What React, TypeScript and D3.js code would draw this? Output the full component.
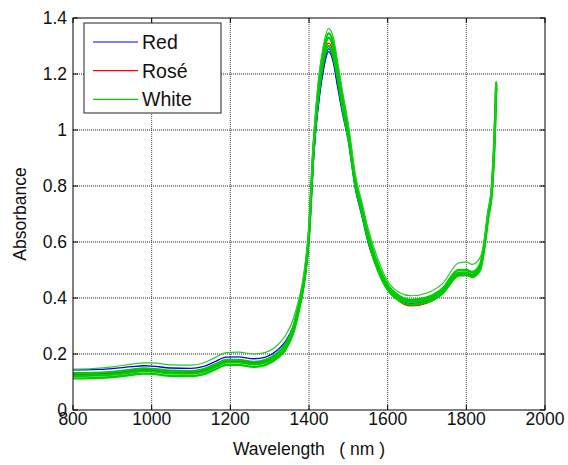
import React from 'react';
import * as d3 from 'd3';

// wavelengths (nm) shared by every spectrum
const wavelengths = [800, 850, 900, 950, 980, 1000, 1050, 1100, 1130, 1160, 1190, 1220, 1260, 1290, 1320, 1340, 1360, 1375, 1385, 1395, 1400, 1405, 1410, 1415, 1425, 1435, 1450, 1462, 1472, 1485, 1500, 1518, 1535, 1550, 1575, 1600, 1630, 1660, 1700, 1740, 1780, 1800, 1815, 1835, 1845, 1855, 1865, 1872, 1876];

// Red wines (drawn blue)
const red1 = [0.143, 0.144, 0.148, 0.155, 0.158, 0.157, 0.150, 0.149, 0.155, 0.172, 0.189, 0.190, 0.183, 0.189, 0.214, 0.245, 0.30, 0.38, 0.44, 0.54, 0.62, 0.74, 0.87, 0.97, 1.11, 1.21, 1.29, 1.25, 1.17, 1.07, 0.97, 0.80, 0.70, 0.61, 0.51, 0.44, 0.402, 0.39, 0.40, 0.432, 0.50, 0.50, 0.492, 0.518, 0.58, 0.69, 0.79, 0.98, 1.16];
const red2 = [0.128, 0.129, 0.133, 0.141, 0.145, 0.144, 0.137, 0.136, 0.142, 0.159, 0.176, 0.176, 0.169, 0.176, 0.201, 0.231, 0.29, 0.37, 0.43, 0.53, 0.61, 0.73, 0.86, 0.96, 1.10, 1.20, 1.28, 1.24, 1.16, 1.06, 0.96, 0.79, 0.69, 0.60, 0.50, 0.43, 0.392, 0.38, 0.39, 0.422, 0.488, 0.489, 0.482, 0.508, 0.575, 0.685, 0.785, 0.975, 1.16];

// Rosé wines (drawn red)
const rose1 = [0.125, 0.126, 0.130, 0.138, 0.142, 0.141, 0.134, 0.133, 0.139, 0.156, 0.173, 0.173, 0.166, 0.173, 0.198, 0.228, 0.288, 0.372, 0.442, 0.552, 0.632, 0.762, 0.90, 1.00, 1.15, 1.25, 1.31, 1.275, 1.20, 1.09, 0.98, 0.805, 0.705, 0.615, 0.505, 0.435, 0.388, 0.372, 0.382, 0.42, 0.485, 0.486, 0.479, 0.505, 0.575, 0.685, 0.785, 0.975, 1.16];

// White wines (drawn green)
const white1 = [0.113, 0.114, 0.118, 0.126, 0.130, 0.129, 0.122, 0.121, 0.127, 0.144, 0.161, 0.161, 0.154, 0.161, 0.186, 0.215, 0.275, 0.36, 0.43, 0.54, 0.62, 0.75, 0.89, 0.99, 1.13, 1.23, 1.30, 1.26, 1.19, 1.08, 0.97, 0.80, 0.70, 0.61, 0.50, 0.43, 0.39, 0.376, 0.385, 0.417, 0.48, 0.482, 0.475, 0.50, 0.57, 0.68, 0.78, 0.97, 1.15];
const white2 = [0.122, 0.123, 0.127, 0.135, 0.139, 0.138, 0.131, 0.130, 0.136, 0.153, 0.170, 0.170, 0.163, 0.170, 0.195, 0.225, 0.285, 0.37, 0.44, 0.55, 0.63, 0.76, 0.90, 1.00, 1.15, 1.25, 1.33, 1.29, 1.21, 1.10, 0.99, 0.81, 0.71, 0.62, 0.51, 0.44, 0.40, 0.386, 0.394, 0.426, 0.49, 0.491, 0.484, 0.51, 0.58, 0.69, 0.79, 0.98, 1.165];
const white3 = [0.131, 0.132, 0.136, 0.144, 0.148, 0.147, 0.140, 0.139, 0.145, 0.162, 0.179, 0.179, 0.172, 0.179, 0.204, 0.235, 0.295, 0.38, 0.45, 0.56, 0.64, 0.77, 0.91, 1.01, 1.17, 1.27, 1.345, 1.31, 1.23, 1.12, 1.00, 0.82, 0.72, 0.63, 0.52, 0.447, 0.407, 0.393, 0.402, 0.434, 0.50, 0.50, 0.493, 0.52, 0.59, 0.70, 0.80, 0.99, 1.17];
const white4 = [0.146, 0.148, 0.154, 0.164, 0.168, 0.168, 0.161, 0.160, 0.167, 0.186, 0.205, 0.207, 0.200, 0.206, 0.232, 0.265, 0.325, 0.40, 0.47, 0.58, 0.66, 0.79, 0.93, 1.03, 1.19, 1.29, 1.362, 1.33, 1.25, 1.14, 1.02, 0.84, 0.74, 0.65, 0.54, 0.46, 0.42, 0.408, 0.418, 0.452, 0.525, 0.528, 0.52, 0.545, 0.60, 0.71, 0.81, 1.00, 1.175];

const legendLabels = ['Red', 'Rosé', 'White'];
const legendColors = ['#0000ff', '#ff0000', '#00cc00'];
const xTicks = [800, 1000, 1200, 1400, 1600, 1800, 2000];
const yTicks = [0, 0.2, 0.4, 0.6, 0.8, 1, 1.2, 1.4];

const spectra = [
  { values: red1, color: '#0000ff', width: 1.3 },
  { values: red2, color: '#0000ff', width: 1.3 },
  { values: rose1, color: '#ff0000', width: 1.3 },
  { values: white1, color: '#00cc00', width: 2.4 },
  { values: white2, color: '#00cc00', width: 2.4 },
  { values: white3, color: '#00cc00', width: 2.4 },
  { values: white4, color: '#22cc22', width: 1.2 },
];

const left = 73, right = 545, top = 18, bottom = 410;
const font = 'Arial, "Liberation Sans", sans-serif';

export default function App() {
  const x = d3.scaleLinear().domain([800, 2000]).range([left, right]);
  const y = d3.scaleLinear().domain([0, 1.4]).range([bottom, top]);

  const line = d3.line<number>()
    .x((d, i) => x(wavelengths[i]))
    .y(d => y(d))
    .curve(d3.curveMonotoneX);

  return (
    <svg width={568} height={465} style={{ position: 'absolute', left: 0, top: 0, background: '#fff' }}>
      {/* grid */}
      {xTicks.slice(1, -1).map(t => (
        <line key={'gx' + t} x1={x(t)} x2={x(t)} y1={top} y2={bottom} stroke="#444" strokeWidth={1} strokeDasharray="1,1" />
      ))}
      {yTicks.slice(1, -1).map(t => (
        <line key={'gy' + t} x1={left} x2={right} y1={y(t)} y2={y(t)} stroke="#222" strokeWidth={1} strokeDasharray="1,1" />
      ))}

      {/* spectra */}
      <g fill="none">
        {spectra.map((s, i) => (
          <path key={i} d={line(s.values) || ''} stroke={s.color} strokeWidth={s.width} />
        ))}
      </g>

      {/* ticks */}
      {xTicks.map(t => (
        <g key={'tx' + t}>
          <line x1={x(t)} x2={x(t)} y1={bottom} y2={bottom - 5} stroke="#000" />
          <line x1={x(t)} x2={x(t)} y1={top} y2={top + 5} stroke="#000" />
          <text x={x(t)} y={425} textAnchor="middle" fontSize={17.5} fontFamily={font} fill="#111">{t}</text>
        </g>
      ))}
      {yTicks.map(t => (
        <g key={'ty' + t}>
          <line x1={left} x2={left + 5} y1={y(t)} y2={y(t)} stroke="#000" />
          <line x1={right} x2={right - 5} y1={y(t)} y2={y(t)} stroke="#000" />
          <text x={67} y={y(t)} dy="0.35em" textAnchor="end" fontSize={17.5} fontFamily={font} fill="#111">{t}</text>
        </g>
      ))}

      {/* frame */}
      <rect x={left} y={top} width={right - left} height={bottom - top} fill="none" stroke="#000" strokeWidth={1} />

      {/* axis labels */}
      <text x={(left + right) / 2} y={455} textAnchor="middle" fontSize={17.5} fontFamily={font} fill="#111" style={{ whiteSpace: 'pre' }}>{'Wavelength   ( nm )'}</text>
      <text transform={`translate(26,${(top + bottom) / 2}) rotate(-90)`} textAnchor="middle" fontSize={17.5} fontFamily={font} fill="#111">Absorbance</text>

      {/* legend */}
      <rect x={84} y={23} width={137} height={90} fill="#fff" stroke="#222" strokeWidth={1} />
      {legendLabels.map((l, i) => (
        <g key={l}>
          <line x1={93} x2={138} y1={42 + i * 28.7} y2={42 + i * 28.7} stroke={legendColors[i]} strokeWidth={1.2} />
          <text x={142} y={42 + i * 28.7} dy="0.35em" fontSize={19.5} fontFamily={font} fill="#111">{l}</text>
        </g>
      ))}
    </svg>
  );
}
